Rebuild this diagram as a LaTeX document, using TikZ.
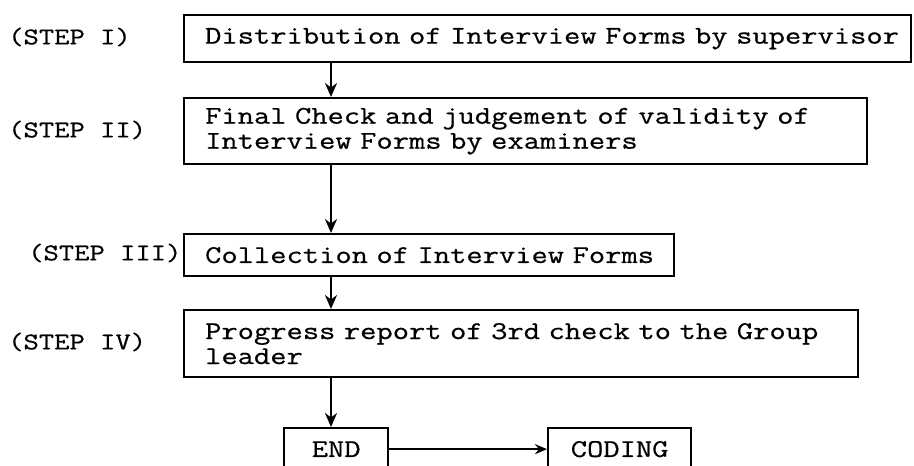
\documentclass[tikz,border=0pt]{standalone}
\usepackage{fontspec}
\setmonofont{Latin Modern Mono}[FakeStretch=1.24,FakeBold=0.6]
\usetikzlibrary{arrows.meta}
\begin{document}
\begin{tikzpicture}[x=1pt,y=-1pt,
  every node/.style={font=\ttfamily\fontsize{25.5}{25}\selectfont},
  stepbox/.style={draw,line width=2.3pt,anchor=north west,align=left,
    inner xsep=21pt,inner ysep=0pt,minimum height=#1},
  steplabel/.style={anchor=west,inner sep=0pt,font=\ttfamily\fontsize{24}{25}\selectfont},
  endbox/.style={draw,line width=2.3pt,anchor=north west,minimum height=42pt,
    inner sep=0pt,align=center},
  flow/.style={line width=2.6pt,-{Stealth[length=14pt,width=12pt]}}]
\useasboundingbox (0,0) rectangle (914,466);

% process boxes (lines kept unbroken inside \mbox)
\node[stepbox=47pt,text width=685pt] (b1) at (183,14)
  {\mbox{Distribution of Interview Forms by supervisor}};
\node[stepbox=66pt,text width=641pt] (b2) at (183,97)
  {\mbox{Final Check and judgement of validity of}\\\mbox{Interview Forms by examiners}};
\node[stepbox=42pt,text width=448pt] (b3) at (183,233)
  {\mbox{Collection of Interview Forms}};
\node[stepbox=67pt,text width=632pt] (b4) at (183,309)
  {\mbox{Progress report of 3rd check to the Group}\\leader};
\node[endbox,minimum width=104pt] (fin) at (283,427) {END};
\node[endbox,minimum width=143pt] (cod) at (547,427) {CODING};

% step labels
\node[steplabel] (s1) at (8,37) {(STEP I)};
\node[steplabel] (s2) at (8,130) {(STEP II)};
\node[steplabel] (s3) at (28,253) {(STEP III)};
\node[steplabel] (s4) at (8,342) {(STEP IV)};

% connectors
\coordinate (ax) at (331,0);
\draw[flow] (ax |- b1.south) -- (ax |- b2.north);
\draw[flow] (ax |- b2.south) -- (ax |- b3.north);
\draw[flow] (ax |- b3.south) -- (ax |- b4.north);
\draw[flow] (ax |- b4.south) -- (ax |- fin.north);
\draw[line width=2pt,-{Stealth[length=12pt,width=10pt]}] (fin.east) -- (cod.west);
\end{tikzpicture}
\end{document}
